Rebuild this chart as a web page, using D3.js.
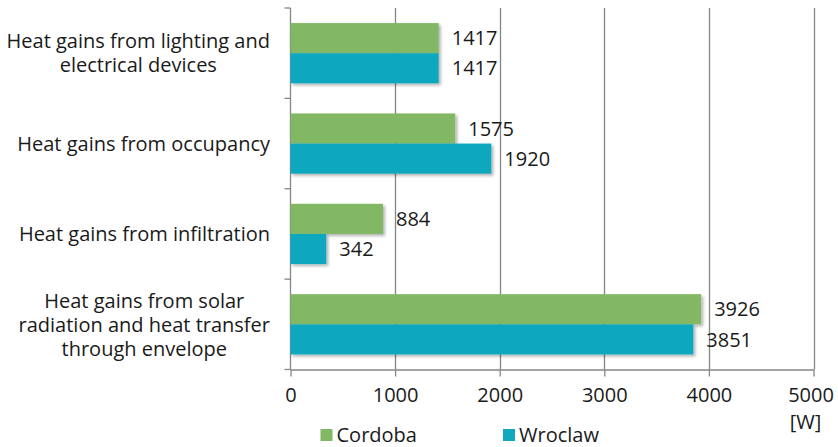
<!DOCTYPE html>
<html><head><meta charset="utf-8">
<script src="https://cdn.jsdelivr.net/npm/d3@7"></script>
<style>body{margin:0;background:#fff}svg{display:block}text{font-family:"Open Sans",sans-serif;fill:#1a1a1a}</style>
</head><body>
<svg id="c" width="838" height="447"></svg>
<script>
const categories = [
  ["Heat gains from lighting and","electrical devices"],
  ["Heat gains from occupancy"],
  ["Heat gains from infiltration"],
  ["Heat gains from solar","radiation and heat transfer","through envelope"]
];
const seriesNames = ["Cordoba","Wroclaw"];
const cordoba = [1417, 1575, 884, 3926];
const wroclaw = [1417, 1920, 342, 3851];
const xTicks = [0,1000,2000,3000,4000,5000];
const unitLabel = "[W]";
const colors = ["#82b863","#0fa8bd"];

const FS = 20;
const svg = d3.select("#c");
const L = 290.5, R = 813.5, T = 8, B = 369.5;
const x = d3.scaleLinear().domain([0,5000]).range([L,R]);
const y = d3.scaleBand().domain(d3.range(categories.length)).range([T,B]).paddingInner(0).paddingOuter(0);
const sub = d3.scaleBand().domain([0,1]).range([0,y.bandwidth()]).paddingOuter(0.5).paddingInner(0);

const defs = svg.append("defs");
const f = defs.append("filter").attr("id","sh").attr("x","-5%").attr("y","-20%").attr("width","115%").attr("height","160%");
f.append("feDropShadow").attr("dx",2).attr("dy",2).attr("stdDeviation",1.5).attr("flood-color","#000").attr("flood-opacity",0.3);

// gridlines
svg.append("g").selectAll("line").data(xTicks.slice(1)).join("line")
  .attr("x1",d=>Math.round(x(d))+0.5).attr("x2",d=>Math.round(x(d))+0.5)
  .attr("y1",T).attr("y2",B).attr("stroke","#868686").attr("stroke-width",1.3);

// x axis
const xa = svg.append("g").attr("transform",`translate(0,${B})`)
  .call(d3.axisBottom(x).tickValues(xTicks).tickSize(7).tickSizeOuter(0).tickFormat(d3.format("d")));
xa.select(".domain").attr("stroke","#868686").attr("stroke-width",1.3);
xa.selectAll(".tick line").attr("stroke","#868686").attr("stroke-width",1.3);
xa.selectAll(".tick text").attr("font-size",FS).attr("y",0).attr("dy",null)
  .attr("transform","translate(0,27)").attr("dominant-baseline","middle")
  .attr("fill","#1a1a1a").attr("font-family","Open Sans");
xa.selectAll(".tick").filter(d=>d===5000).select("text").attr("x",-3);

// y axis
const ya = svg.append("g").attr("transform",`translate(${L},0)`);
ya.append("line").attr("x1",0).attr("x2",0).attr("y1",T).attr("y2",B).attr("stroke","#868686").attr("stroke-width",1.3);
const bounds = d3.range(categories.length+1).map(i=> i<categories.length ? y(i) : B);
ya.selectAll("line.t").data(bounds).join("line").attr("class","t")
  .attr("x1",-6).attr("x2",0).attr("y1",d=>d).attr("y2",d=>d).attr("stroke","#868686").attr("stroke-width",1.3);

// bars
const data = [cordoba, wroclaw];
data.forEach((vals,si)=>{
  const g = svg.append("g");
  g.selectAll("rect").data(vals).join("rect")
    .attr("x",x(0)).attr("y",(d,i)=>y(i)+sub(si))
    .attr("width",d=>x(d)-x(0)).attr("height",sub.bandwidth())
    .attr("fill",colors[si]).attr("filter","url(#sh)");
  g.selectAll("text").data(vals).join("text")
    .attr("x",d=>x(d)+13).attr("y",(d,i)=>y(i)+sub(si)+sub.bandwidth()/2)
    .attr("dy","0.36em").attr("font-size",FS).text(d=>d);
});

// category labels: block right-aligned at 270, lines centered in block
categories.forEach((lines,i)=>{
  const cy = y(i)+y.bandwidth()/2;
  const lh = 24;
  const t = svg.append("text").attr("text-anchor","middle").attr("font-size",FS);
  const spans = lines.map((ln,j)=>
    t.append("tspan").attr("y",cy+(j-(lines.length-1)/2)*lh).attr("dy","0.36em").text(ln));
  const w = d3.max(spans, s=>s.node().getComputedTextLength());
  spans.forEach(s=>s.attr("x",270 - w/2));
});

// unit label
svg.append("text").attr("x",x(5000)-8).attr("y",422).attr("dy","0.36em").attr("text-anchor","middle").attr("font-size",FS).text(unitLabel);

// legend
const lg = svg.append("g");
const lx = [320.5, 503];
seriesNames.forEach((n,i)=>{
  lg.append("rect").attr("x",lx[i]).attr("y",429).attr("width",12).attr("height",12).attr("fill",colors[i]);
  lg.append("text").attr("x",lx[i]+16).attr("y",434.5).attr("dy","0.36em").attr("font-size",FS).text(n);
});
</script>
</body></html>
